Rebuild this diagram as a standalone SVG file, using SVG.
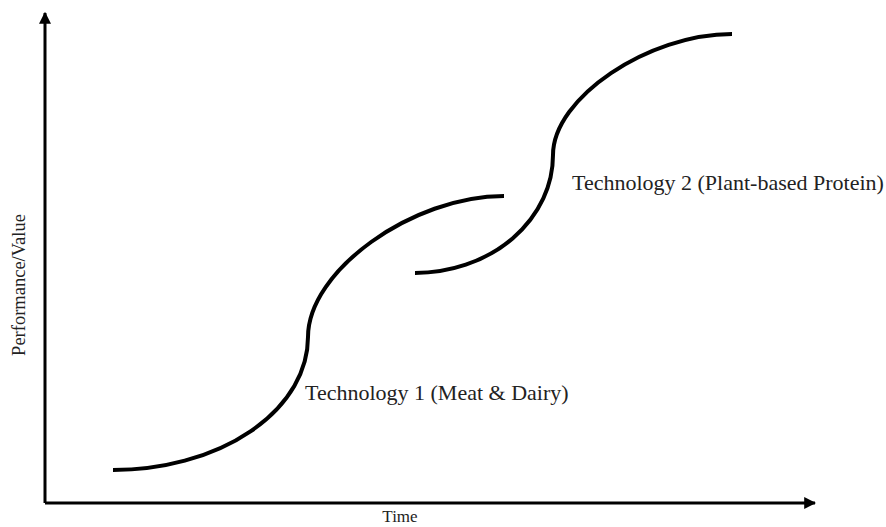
<svg xmlns="http://www.w3.org/2000/svg" width="886" height="527" viewBox="0 0 886 527">
  <style>
    .axis { stroke: #000; stroke-width: 3; fill: none; }
    .curve { stroke: #000; stroke-width: 4; fill: none; }
    .label { font-family: "Liberation Serif", "Times New Roman", serif; fill: #222; }
  </style>
  <defs>
    <marker id="arrow" viewBox="0 0 10 10" refX="9" refY="5" markerWidth="4" markerHeight="4" orient="auto" markerUnits="strokeWidth">
      <path d="M0,0 L10,5 L0,10 z" fill="#000"/>
    </marker>
  </defs>
  <rect width="886" height="527" fill="#fff"/>

  <!-- axes -->
  <g id="connectors">
    <path class="axis" d="M45,503 L45,13" marker-end="url(#arrow)"/>
    <path class="axis" d="M45,503 L815,503" marker-end="url(#arrow)"/>
  </g>

  <!-- S-curves: elliptical lower half, cubic upper half -->
  <g id="tech1">
    <path class="curve" d="M113,470 A195,133 0 0 0 308,337 C308,271 412,196 504,196"/>
    <text class="label" x="305" y="400" font-size="22">Technology 1 (Meat &amp; Dairy)</text>
  </g>
  <g id="tech2">
    <path class="curve" d="M415,273 A138,118 0 0 0 553,155 C553,98 648,34 732,34"/>
    <text class="label" x="572" y="190" font-size="22">Technology 2 (Plant-based Protein)</text>
  </g>

  <!-- axis titles -->
  <g id="y-label">
    <text class="label" x="0" y="0" font-size="18.5" text-anchor="middle" transform="translate(25,285) rotate(-90)">Performance/Value</text>
  </g>
  <g id="x-label">
    <text class="label" x="400" y="522" font-size="17" text-anchor="middle">Time</text>
  </g>
</svg>
